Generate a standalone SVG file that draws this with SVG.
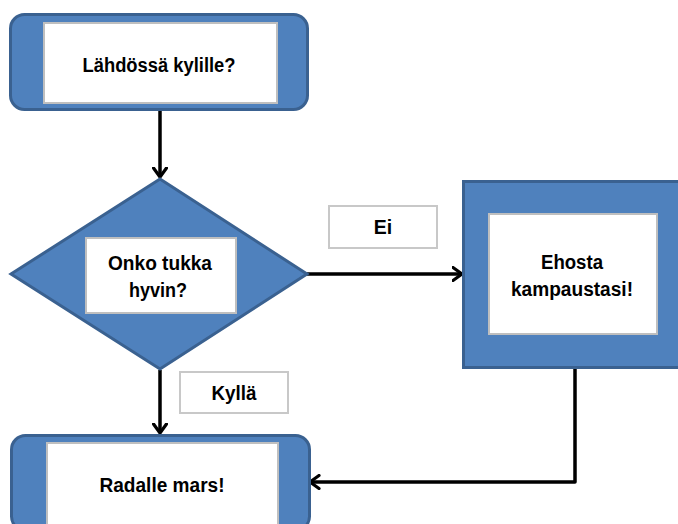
<svg xmlns="http://www.w3.org/2000/svg" width="678" height="524" viewBox="0 0 678 524">
  <defs>
    <marker id="chev" viewBox="0 0 12 16" refX="10.5" refY="8" markerWidth="12" markerHeight="16" markerUnits="userSpaceOnUse" orient="auto">
      <path d="M1.5,1.5 L10.5,8 L1.5,14.5" fill="none" stroke="#000" stroke-width="3.2" stroke-linecap="round" stroke-linejoin="round"/>
    </marker>
    <style>
      .shape { fill: #4f81bd; stroke: #3a6190; stroke-width: 3; }
      .inner { fill: #ffffff; stroke: #bfbfbf; stroke-width: 2; }
      .tag { fill: #ffffff; stroke: #c8c8c8; stroke-width: 2; }
      .lbl { font-family: "Liberation Sans", Arial, sans-serif; font-weight: bold; font-size: 19.5px; fill: #000; text-anchor: middle; }
      .wire { fill: none; stroke: #000; stroke-width: 3.5; stroke-linejoin: round; marker-end: url(#chev); }
    </style>
  </defs>

  <!-- connectors -->
  <g id="connectors">
    <path class="wire" d="M160,110 V177"/>
    <path class="wire" d="M307,274 H462"/>
    <path class="wire" d="M575,368 V482 H310"/>
    <path class="wire" d="M160,370 V433"/>
  </g>

  <!-- start -->
  <g id="start">
    <rect class="shape" x="10.5" y="14.5" width="297" height="95" rx="14"/>
    <rect class="inner" x="44" y="23" width="233" height="80"/>
    <text class="lbl" x="159" y="72" textLength="153" lengthAdjust="spacingAndGlyphs">Lähdössä kylille?</text>
  </g>

  <!-- decision -->
  <g id="decision">
    <polygon class="shape" points="160,179 307,274 160,369 11,274"/>
    <rect class="inner" x="86" y="238" width="150" height="75"/>
    <text class="lbl" x="160" y="270" textLength="104" lengthAdjust="spacingAndGlyphs">Onko tukka</text>
    <text class="lbl" x="158" y="297" textLength="58" lengthAdjust="spacingAndGlyphs">hyvin?</text>
  </g>

  <!-- label: no -->
  <g id="label-ei">
    <rect class="tag" x="329" y="206" width="108" height="42"/>
    <text class="lbl" x="383" y="234">Ei</text>
  </g>

  <!-- fix action -->
  <g id="fix">
    <rect class="shape" x="463.5" y="181.5" width="222" height="186"/>
    <rect class="inner" x="489" y="214" width="168" height="120"/>
    <text class="lbl" x="572" y="269" textLength="62" lengthAdjust="spacingAndGlyphs">Ehosta</text>
    <text class="lbl" x="572" y="296" textLength="122" lengthAdjust="spacingAndGlyphs">kampaustasi!</text>
  </g>

  <!-- label: yes -->
  <g id="label-kylla">
    <rect class="tag" x="180" y="372" width="108" height="41"/>
    <text class="lbl" x="234" y="400" textLength="45" lengthAdjust="spacingAndGlyphs">Kyllä</text>
  </g>

  <!-- end -->
  <g id="end">
    <rect class="shape" x="11.5" y="435.5" width="298" height="95" rx="14"/>
    <rect class="inner" x="47" y="443" width="231" height="82"/>
    <text class="lbl" x="162" y="492" textLength="125" lengthAdjust="spacingAndGlyphs">Radalle mars!</text>
  </g>
</svg>
